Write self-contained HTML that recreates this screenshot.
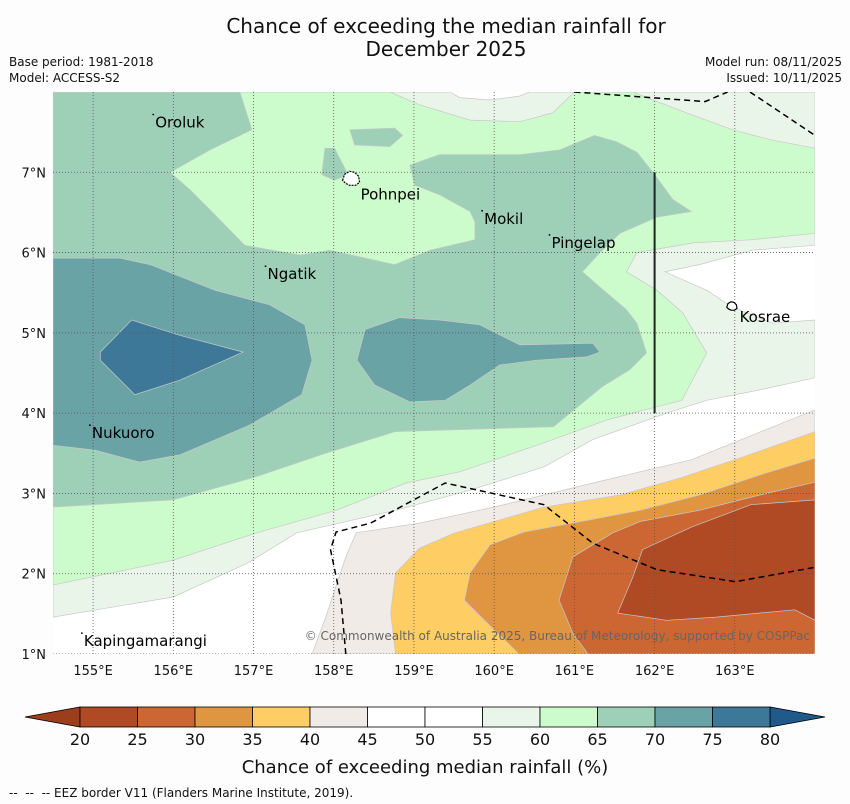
<!DOCTYPE html>
<html><head><meta charset="utf-8"><style>
html,body{margin:0;padding:0;background:#fdfdfd;}
svg{display:block;font-family:"DejaVu Sans","Liberation Sans",sans-serif;}
</style></head><body>
<svg id="chart" width="850" height="804" viewBox="0 0 850 804" xmlns="http://www.w3.org/2000/svg">
<rect x="0" y="0" width="850" height="804" fill="#fdfdfd"/>
<text x="446" y="33" font-size="20" text-anchor="middle" fill="#111">Chance of exceeding the median rainfall for</text>
<text x="446" y="56" font-size="20" text-anchor="middle" fill="#111">December 2025</text>
<text x="9" y="66" font-size="12" fill="#111">Base period: 1981-2018</text>
<text x="9" y="82" font-size="12" fill="#111">Model: ACCESS-S2</text>
<text x="842" y="66" font-size="12" text-anchor="end" fill="#111">Model run: 08/11/2025</text>
<text x="842" y="82" font-size="12" text-anchor="end" fill="#111">Issued: 10/11/2025</text>
<defs><clipPath id="mapclip"><rect x="53" y="92" width="762" height="562"/></clipPath></defs>
<g id="map" clip-path="url(#mapclip)"></g>
<g id="overlay"></g>
<g id="axes"></g>
<g id="cbar"></g>
<text x="425" y="773" font-size="18" text-anchor="middle" fill="#111">Chance of exceeding median rainfall (%)</text>
<text x="9" y="797" font-size="12" fill="#111">--&#160;&#160;--&#160;&#160;-- EEZ border V11 (Flanders Marine Institute, 2019).</text>
</svg>
<script>
// ---- colorbar data ----
const levels = [20,25,30,35,40,45,50,55,60,65,70,75,80];
const levelColors = ["#b04a25","#cc6633","#e09540","#fecd64","#f0ebe7","#ffffff","#ffffff","#eaf5e9","#ccfccc","#9ed0b8","#6aa3a6","#3e7899"];
const underColor = "#9c3e1c";
const overColor = "#1f5a8a";
// ---- axis ticks ----
const lonTicks = [155,156,157,158,159,160,161,162,163];
const latTicks = [1,2,3,4,5,6,7];
// ---- contour regions (lon, lat) ----
const region55 = [[154.5,8],[159.45,8],[159.57,7.93],[159.95,7.9],[160.32,7.95],[160.44,8],[164,8],[164,6.09],[163.22,6.03],[162.56,5.85],[162.13,5.76],[162.65,5.53],[162.97,5.32],[163.47,5.12],[164,5.16],[164,4.44],[163.31,4.29],[162.65,4.16],[162.15,4.0],[161.23,3.67],[160.62,3.33],[159.7,3.04],[158.77,2.79],[157.54,2.51],[156.92,2.13],[156.0,1.71],[154.5,1.46]];
const region60 = [[154.5,8],[158.7,8],[159.07,7.84],[159.7,7.65],[160.32,7.63],[160.73,7.74],[161.0,8],[161.73,8],[161.98,7.9],[162.4,7.74],[162.97,7.53],[163.47,7.4],[164,7.3],[164,6.24],[163.22,6.16],[162.48,6.12],[161.78,6.0],[161.65,5.76],[162.03,5.53],[162.35,5.25],[162.65,4.75],[162.34,4.16],[162.03,4.08],[161.42,3.92],[160.62,3.63],[159.57,3.27],[158.9,3.13],[158.03,2.79],[157.04,2.51],[156.0,2.17],[154.5,1.86]];
const region65 = [[154.5,8],[156.83,8],[156.98,7.53],[156.46,7.28],[155.96,7.0],[156.21,6.78],[156.52,6.47],[156.89,6.09],[157.58,5.97],[157.95,6.03],[158.76,5.85],[159.2,6.03],[159.76,6.16],[159.76,6.38],[159.7,6.51],[159.32,6.72],[159.01,6.84],[158.95,7.09],[159.32,7.22],[160.32,7.22],[160.82,7.28],[161.25,7.46],[161.53,7.38],[161.78,7.25],[161.98,7.0],[162.23,6.66],[162.46,6.51],[162.03,6.44],[161.57,6.24],[161.32,6.0],[161.1,5.76],[161.32,5.57],[161.65,5.29],[161.78,5.12],[161.9,4.75],[161.69,4.54],[161.35,4.33],[160.74,3.83],[158.77,3.77],[157.9,3.5],[157.04,3.21],[156.0,2.92],[154.5,2.83]];
const region65b = [[158.2,7.53],[158.76,7.55],[158.86,7.46],[158.7,7.32],[158.26,7.34]];
const region65c = [[157.89,7.3],[158.01,7.3],[158.18,6.97],[158.01,6.9],[157.85,6.97]];
const region70 = [[154.5,5.93],[155.34,5.93],[155.71,5.85],[156.52,5.53],[157.2,5.35],[157.64,5.1],[157.73,4.66],[157.6,4.23],[156.95,3.85],[156.08,3.48],[155.58,3.39],[155.02,3.54],[154.5,3.6]];
const region70b = [[158.29,4.66],[158.39,5.04],[158.82,5.19],[159.32,5.16],[159.82,5.1],[160.32,4.85],[161.23,4.87],[161.32,4.76],[161.15,4.7],[160.53,4.66],[160.07,4.6],[159.7,4.35],[159.39,4.16],[158.95,4.14],[158.51,4.35]];
const region75 = [[155.09,4.76],[155.48,5.16],[156.08,4.97],[156.87,4.76],[156.08,4.41],[155.52,4.23],[155.09,4.66]];
const region45 = [[164,4.04],[162.46,3.42],[161.23,3.13],[160.0,2.83],[159.07,2.63],[158.28,2.51],[158.15,2.21],[157.9,1.46],[157.73,1.0],[164,1.0]];
const region40 = [[164,3.77],[163.06,3.44],[162.31,3.19],[161.57,2.98],[160.62,2.83],[159.51,2.51],[159.07,2.32],[158.77,2.01],[158.71,1.51],[158.77,1.0],[164,1.0]];
const region35 = [[164,3.44],[163.31,3.23],[162.56,2.98],[161.82,2.79],[161.19,2.67],[160.37,2.52],[159.95,2.36],[159.7,2.01],[159.63,1.67],[159.88,1.42],[160.31,1.0],[164,1.0]];
const region30 = [[164,3.14],[163.31,2.98],[162.56,2.79],[161.82,2.65],[161.48,2.51],[160.98,2.21],[160.81,1.67],[160.98,1.26],[161.17,1.0],[164,1.0]];
const region25 = [[164,2.92],[163.2,2.86],[162.46,2.58],[161.85,2.3],[161.73,1.96],[161.54,1.51],[162.15,1.42],[162.77,1.46],[163.75,1.55],[164,1.42]];
// ---- EEZ borders ----
const eezTop1 = [[161.0,8.0],[162.63,7.88],[162.91,8.0]];
const eezTop2 = [[163.19,8.0],[164,7.46]];
const eezSouth = [[158.15,1.0],[158.09,1.67],[157.96,2.3],[158.03,2.52],[158.46,2.63],[159.39,3.13],[160.62,2.86],[161.23,2.38],[162.03,2.05],[163.01,1.9],[164,2.08]];
const eezNS = [[162,7],[162,4]];
// ---- places ----
const placeNames = ["Oroluk","Pohnpei","Mokil","Pingelap","Ngatik","Kosrae","Nukuoro","Kapingamarangi"];
const placeLon = [155.75,158.21,159.85,160.69,157.15,162.96,154.96,154.86];
const placeLat = [7.72,6.90,6.52,6.22,5.83,5.32,3.85,1.26];

const NS="http://www.w3.org/2000/svg";
const X0=53,X1=815,Y0=92,Y1=654,LON0=154.5,LON1=164,LAT0=1,LAT1=8;
function xs(lon){return X0+(lon-LON0)/(LON1-LON0)*(X1-X0);}
function ys(lat){return Y1-(lat-LAT0)/(LAT1-LAT0)*(Y1-Y0);}
function mk(tag,attrs,parent){const e=document.createElementNS(NS,tag);for(const k in attrs)e.setAttribute(k,attrs[k]);parent.appendChild(e);return e;}
function pts(a){return a.map(p=>xs(p[0]).toFixed(1)+","+ys(p[1]).toFixed(1)).join(" ");}
const map=document.getElementById('map');
const r0=mk('rect',{x:X0,y:Y0,width:X1-X0,height:Y1-Y0,fill:'#ffffff'},map);


const layers=[
 [region55,levelColors[7],'contour-55-60'],[region60,levelColors[8],'contour-60-65'],
 [region65,levelColors[9],'contour-65-70'],[region65b,levelColors[9],'contour-65-70-islet'],[region65c,levelColors[9],'contour-65-70-islet-2'],
 [region70,levelColors[10],'contour-70-75-west'],[region70b,levelColors[10],'contour-70-75-central'],
 [region75,levelColors[11],'contour-75-80'],
 [region45,levelColors[4],'contour-40-45'],[region40,levelColors[3],'contour-35-40'],
 [region35,levelColors[2],'contour-30-35'],[region30,levelColors[1],'contour-25-30'],[region25,levelColors[0],'contour-20-25']];
layers.forEach(L=>{
 const p=mk('polygon',{points:pts(L[0]),fill:L[1],stroke:'#c8c8c8','stroke-width':0.7},map);
 
 
});
lonTicks.forEach(v=>{const l=mk('line',{x1:xs(v),x2:xs(v),y1:Y0,y2:Y1,stroke:'#555','stroke-width':0.8,'stroke-dasharray':'1,2'},map);
 
 });
latTicks.forEach(v=>{const l=mk('line',{x1:X0,x2:X1,y1:ys(v),y2:ys(v),stroke:'#555','stroke-width':0.8,'stroke-dasharray':'1,2'},map);
 
 });
[[eezTop1,'eez-north-1'],[eezTop2,'eez-north-2'],[eezSouth,'eez-south']].forEach(E=>{
 const l=mk('polyline',{points:pts(E[0]),fill:'none',stroke:'#000','stroke-width':1.5,'stroke-dasharray':'6,4'},map);
 
 
});
const ns=mk('polyline',{points:pts(eezNS),fill:'none',stroke:'#222','stroke-width':2},map);


const cp=mk('text',{x:X1-5,y:Y1-14,'font-size':12,'text-anchor':'end',fill:'#666'},map);
cp.textContent='© Commonwealth of Australia 2025, Bureau of Meteorology, supported by COSPPac';


const ov=document.getElementById('overlay');
placeNames.forEach((n,i)=>{
 const x=xs(placeLon[i]),y=ys(placeLat[i]);
 if(n==='Pohnpei'||n==='Kosrae'){
  const s=n==='Pohnpei'?1:0.6;
  const isl=mk('path',{d:`M${x-8*s},${y} l2,-6 l5,-3 l5,1 l4,4 l1,6 l-4,3 l-6,0 l-4,-2 z`.replace(/l(-?\d+),(-?\d+)/g,(m,a,b)=>'l'+(a*s)+','+(b*s)),fill:'#fff',stroke:'#000','stroke-width':1.2,'stroke-dasharray':n==='Pohnpei'?'2,1':'none'},ov);
  
  
 } else {
  const d=mk('circle',{cx:x,cy:y,r:0.9,fill:'#000'},ov);
  
  
 }
 const dx=n==='Pohnpei'?10:(n==='Kosrae'?8:2), dy=n==='Pohnpei'?19:(n==='Kosrae'?15:13);
 const t=mk('text',{x:x+dx,y:y+dy,'font-size':15,fill:'#000'},ov);
 t.textContent=n;
 
 
});
const ax=document.getElementById('axes');
lonTicks.forEach(v=>{const t=mk('text',{x:xs(v),y:Y1+21,'font-size':13,'text-anchor':'middle',fill:'#111'},ax);
 t.textContent=v+'°E';
 
 });
latTicks.forEach(v=>{const t=mk('text',{x:X0-7,y:ys(v)+5,'font-size':13,'text-anchor':'end',fill:'#111'},ax);
 t.textContent=v+'°N';
 
 });
const cb=document.getElementById('cbar');
const CB0=80,CB1=770,CBY=707,CBH=20;
function cx(v){return CB0+(v-levels[0])/(levels[levels.length-1]-levels[0])*(CB1-CB0);}
const lt=mk('polygon',{points:`${CB0},${CBY} ${CB0},${CBY+CBH} 25,${CBY+CBH/2}`,fill:underColor,stroke:'#000','stroke-width':0.8},cb);


const rt=mk('polygon',{points:`${CB1},${CBY} ${CB1},${CBY+CBH} 825,${CBY+CBH/2}`,fill:overColor,stroke:'#000','stroke-width':0.8},cb);


levelColors.forEach((c,i)=>{
 const r=mk('rect',{x:cx(levels[i]),y:CBY,width:cx(levels[i+1])-cx(levels[i]),height:CBH,fill:c,stroke:'#000','stroke-width':0.8},cb);
 
 
});
levels.forEach(v=>{
 const t=mk('text',{x:cx(v),y:CBY+CBH+18,'font-size':16,'text-anchor':'middle',fill:'#111'},cb);
 t.textContent=v;
 
 
});
</script>
</body></html>
